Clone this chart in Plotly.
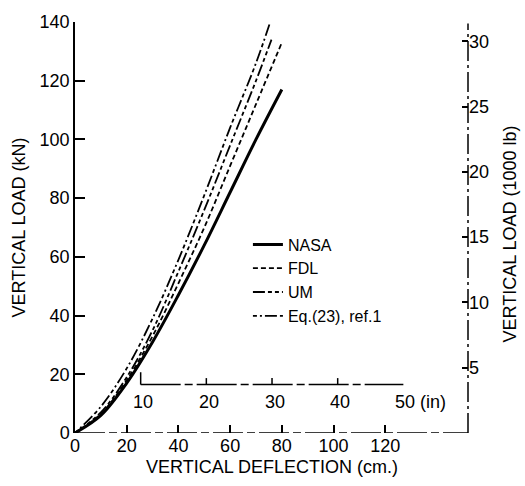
import plotly.graph_objects as go

# ---- data (deflection in cm, load in kN) ----
nasa_x = [0, 10, 20, 30, 40, 50, 60, 70, 80]
nasa_y = [0, 6, 17, 31, 47, 64, 82, 100, 117]

fdl_x = [0, 10, 20, 30, 40, 50, 60, 70, 80]
fdl_y = [0, 6.5, 18, 33, 51, 70, 91, 112, 133]

um_x = [0, 10, 20, 30, 40, 50, 60, 70, 76]
um_y = [0, 7, 19, 35, 55, 76, 98, 120, 134]

eq_x = [0, 10, 20, 30, 40, 50, 60, 70, 75.5]
eq_y = [0, 9, 22, 39, 59, 81, 104, 126, 140]

x_ticks_cm = [0, 20, 40, 60, 80, 100, 120]
y_ticks_kn = [0, 20, 40, 60, 80, 100, 120, 140]
y2_ticks_klb = [5, 10, 15, 20, 25, 30]
in_ticks = [10, 20, 30, 40, 50]

KN_PER_KLB = 4.4482
CM_PER_IN = 2.54
X_MAX = 152
Y_MAX = 140
IN_AXIS_Y = 16.5

FONT = "Liberation Sans"

fig = go.Figure()

styles = [
    ("NASA", nasa_x, nasa_y, "solid", 3),
    ("FDL", fdl_x, fdl_y, "5px,3px", 1.8),
    ("UM", um_x, um_y, "12px,3px,4px,3px,4px,3px", 1.8),
    ("Eq.(23), ref.1", eq_x, eq_y, "4px,3px,2px,3px,12px,3px", 1.8),
]
for name, xs, ys, dash, w in styles:
    fig.add_trace(go.Scatter(x=xs, y=ys, mode="lines", name=name,
                             line=dict(color="black", width=w, dash=dash,
                                       shape="spline")))

# invisible trace to activate right axis
fig.add_trace(go.Scatter(x=[0], y=[0], yaxis="y2", mode="markers",
                         marker=dict(opacity=0), showlegend=False,
                         hoverinfo="skip"))

# bottom dashed axis line
fig.add_shape(type="line", xref="paper", yref="y", x0=0, x1=1, y0=0, y1=0,
              line=dict(color="black", width=1.5, dash="30px,4px,8px,4px"))
# right dashed axis line
fig.add_shape(type="line", xref="paper", yref="y", x0=1, x1=1, y0=0,
              y1=Y_MAX - 0.5,
              line=dict(color="black", width=1.5, dash="20px,4px,3px,4px"))

# inner inch axis
fig.add_shape(type="line", xref="x", yref="y",
              x0=in_ticks[0] * CM_PER_IN, x1=in_ticks[-1] * CM_PER_IN,
              y0=IN_AXIS_Y, y1=IN_AXIS_Y,
              line=dict(color="black", width=1.5, dash="40px,4px,8px,4px"))
for i, t in enumerate(in_ticks[:-1]):
    top = IN_AXIS_Y + (4.2 if i == 0 else 2.2)
    fig.add_shape(type="line", xref="x", yref="y",
                  x0=t * CM_PER_IN, x1=t * CM_PER_IN, y0=IN_AXIS_Y, y1=top,
                  line=dict(color="black", width=1.5))
for t in in_ticks:
    if t == in_ticks[-1]:
        fig.add_annotation(x=t * CM_PER_IN - 4, y=IN_AXIS_Y - 6, xref="x",
                           yref="y", text=f"{t} (in)", showarrow=False,
                           xanchor="left", yanchor="middle",
                           font=dict(family=FONT, size=18, color="black"))
    else:
        fig.add_annotation(x=t * CM_PER_IN + 1, y=IN_AXIS_Y - 6, xref="x",
                           yref="y", text=str(t), showarrow=False,
                           xanchor="center", yanchor="middle",
                           font=dict(family=FONT, size=18, color="black"))

# axis titles
fig.add_annotation(x=-0.145, y=0.5, xref="paper", yref="paper",
                   text="VERTICAL LOAD (kN)", textangle=-90, showarrow=False,
                   xanchor="center", yanchor="middle",
                   font=dict(family=FONT, size=18, color="black"))
fig.add_annotation(x=0.5, y=-0.082, xref="paper", yref="paper",
                   text="VERTICAL DEFLECTION (cm.)", showarrow=False,
                   xanchor="center", yanchor="middle",
                   font=dict(family=FONT, size=18, color="black"))
fig.add_annotation(x=1.107, y=0.483, xref="paper", yref="paper",
                   text="VERTICAL LOAD (1000 lb)", textangle=-90,
                   showarrow=False, xanchor="center", yanchor="middle",
                   font=dict(family=FONT, size=18, color="black"))

fig.update_layout(
    width=525, height=486,
    margin=dict(l=75, r=57, t=17, b=53),
    paper_bgcolor="white", plot_bgcolor="white",
    font=dict(family=FONT, size=18, color="black"),
    showlegend=True,
    legend=dict(x=0.44, y=0.5, xanchor="left", yanchor="top",
                bgcolor="rgba(0,0,0,0)", borderwidth=0,
                font=dict(family=FONT, size=16, color="black"),
                tracegroupgap=0),
    xaxis=dict(range=[0, X_MAX], tickvals=x_ticks_cm,
               ticktext=[str(v) for v in x_ticks_cm],
               ticks="inside", ticklen=8, tickwidth=1.5, tickcolor="black",
               showline=False, showgrid=False, zeroline=False,
               tickfont=dict(family=FONT, size=18)),
    yaxis=dict(range=[0, Y_MAX], tickvals=y_ticks_kn,
               ticktext=[str(v) for v in y_ticks_kn],
               ticks="inside", ticklen=10, tickwidth=1.5, tickcolor="black",
               showline=True, linecolor="black", linewidth=1.5,
               showgrid=False, zeroline=False,
               tickfont=dict(family=FONT, size=18)),
    yaxis2=dict(range=[0, Y_MAX / KN_PER_KLB], overlaying="y", side="right",
                tickvals=y2_ticks_klb, ticktext=[str(v) for v in y2_ticks_klb],
                ticks="inside", ticklen=6, tickwidth=1.5, tickcolor="black",
                showline=False, showgrid=False, zeroline=False,
                tickfont=dict(family=FONT, size=18)),
)

fig.write_html("out.html")
